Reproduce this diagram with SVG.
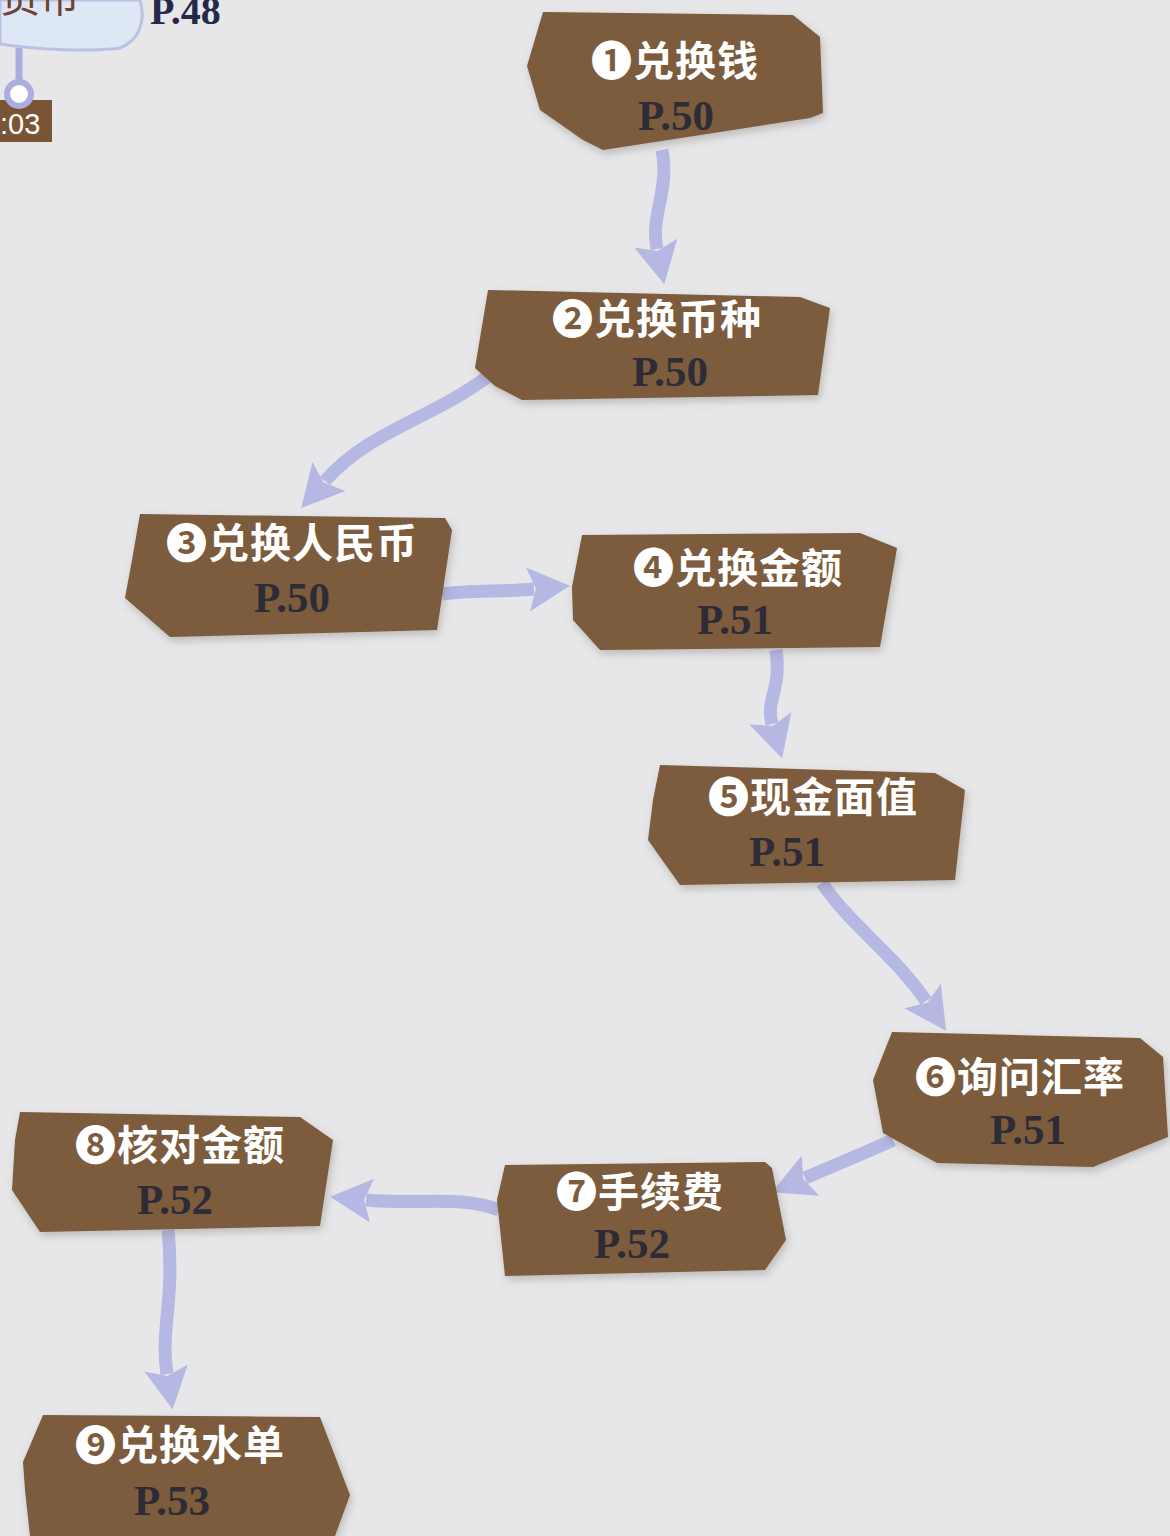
<svg xmlns="http://www.w3.org/2000/svg" width="1170" height="1536" viewBox="0 0 1170 1536">
<defs>
<style>
.node{fill:#7b5c3c;filter:url(#sh)}
.lbl{font-family:"Noto Sans CJK SC","DejaVu Sans",sans-serif;font-weight:bold;font-size:41px;fill:#ffffff;text-anchor:middle;letter-spacing:1px}
.pg{font-family:"Liberation Serif",serif;font-weight:bold;font-size:43px;fill:#2c2b36;text-anchor:middle}
.arr{fill:none;stroke:#b4b8e2;stroke-width:13;stroke-linecap:butt;marker-end:url(#ah)}
</style>
<filter id="sh" x="-10%" y="-10%" width="120%" height="130%">
<feDropShadow dx="2" dy="4" stdDeviation="4" flood-color="#6a6660" flood-opacity="0.35"/>
</filter>
<marker id="ah" markerUnits="userSpaceOnUse" markerWidth="50" markerHeight="50" refX="6" refY="22" orient="auto">
<path d="M0,0 L42,22 L0,44 L8,22 Z" fill="#b4b8e2"/>
</marker>
</defs>
<rect width="1170" height="1536" fill="#e7e7ea"/>

<g id="header">
<path d="M0,0 H140 C146,20 140,40 120,48 C90,52 40,50 0,44 Z" fill="#dde7f6" stroke="#bcc1e4" stroke-width="3"/>
<text x="0" y="12" font-family="Noto Sans CJK SC,sans-serif" font-size="40" fill="#6e4330">货币</text>
<text x="150" y="24" font-family="Liberation Serif,serif" font-weight="bold" font-size="40" fill="#26284a">P.48</text>
<line x1="19" y1="48" x2="19" y2="92" stroke="#a9aede" stroke-width="7"/>
<rect x="0" y="100" width="52" height="42" fill="#7a5535"/>
<circle cx="19" cy="94" r="12" fill="#ffffff" stroke="#a9aede" stroke-width="6"/>
<text x="0" y="134" font-family="Liberation Sans,sans-serif" font-size="29" fill="#ffffff">:03</text>
</g>

<g id="connectors">
<path class="arr" d="M662,150 C670,190 650,215 657,249"/>
<path class="arr" d="M490,375 C430,420 370,430 325,481"/>
<path class="arr" d="M442,594 C470,590 500,592 534,589"/>
<path class="arr" d="M776,650 C782,690 765,700 772,724"/>
<path class="arr" d="M822,883 C850,925 895,955 926,1001"/>
<path class="arr" d="M893,1140 C860,1155 835,1165 805,1178"/>
<path class="arr" d="M499,1210 C460,1195 420,1205 366,1200"/>
<path class="arr" d="M168,1230 C175,1300 160,1330 167,1374"/>
</g>

<g id="n1">
<path class="node" d="M543,12 L793,15 L820,37 L823,113 L810,118 L603,150 L583,140 L540,110 L527,66 Z"/>
<text class="lbl" x="675" y="76">❶兑换钱</text>
<text class="pg" x="676" y="130">P.50</text>
</g>
<g id="n2">
<path class="node" d="M488,290 L800,297 L830,308 L818,395 L522,400 L495,386 L475,368 Z"/>
<text class="lbl" x="657" y="334">❷兑换币种</text>
<text class="pg" x="670" y="386">P.50</text>
</g>
<g id="n3">
<path class="node" d="M140,514 L445,518 L452,530 L437,630 L170,637 L125,598 L132,560 Z"/>
<text class="lbl" x="292" y="558">❸兑换人民币</text>
<text class="pg" x="292" y="612">P.50</text>
</g>
<g id="n4">
<path class="node" d="M582,535 L860,533 L897,548 L880,647 L600,650 L573,620 L572,587 Z"/>
<text class="lbl" x="738" y="583">❹兑换金额</text>
<text class="pg" x="735" y="634">P.51</text>
</g>
<g id="n5">
<path class="node" d="M660,765 L935,773 L965,790 L955,880 L680,885 L648,840 L653,800 Z"/>
<text class="lbl" x="813" y="812">❺现金面值</text>
<text class="pg" x="787" y="866">P.51</text>
</g>
<g id="n6">
<path class="node" d="M892,1032 L1140,1038 L1163,1057 L1168,1137 L1093,1167 L937,1163 L883,1133 L873,1080 Z"/>
<text class="lbl" x="1020" y="1092">❻询问汇率</text>
<text class="pg" x="1028" y="1144">P.51</text>
</g>
<g id="n7">
<path class="node" d="M505,1165 L765,1162 L772,1168 L786,1240 L765,1270 L505,1276 L497,1200 Z"/>
<text class="lbl" x="640" y="1207">❼手续费</text>
<text class="pg" x="632" y="1258">P.52</text>
</g>
<g id="n8">
<path class="node" d="M20,1112 L300,1117 L333,1140 L320,1226 L40,1232 L12,1190 L15,1140 Z"/>
<text class="lbl" x="180" y="1160">❽核对金额</text>
<text class="pg" x="175" y="1214">P.52</text>
</g>
<g id="n9">
<path class="node" d="M43,1415 L320,1417 L350,1495 L335,1536 L30,1536 L25,1490 L23,1462 Z"/>
<text class="lbl" x="180" y="1460">❾兑换水单</text>
<text class="pg" x="172" y="1515">P.53</text>
</g>
</svg>
